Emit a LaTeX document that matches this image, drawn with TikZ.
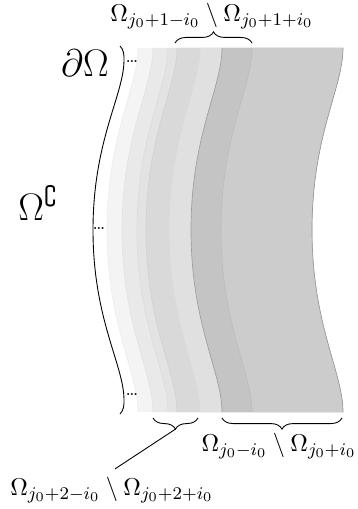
\documentclass[tikz,border=0pt]{standalone}
\usepackage{amsmath, amssymb}
\usepackage{tikz}
\usetikzlibrary{calc,positioning}
\usetikzlibrary{decorations.pathreplacing}

% one wavy edge of a layer, from top to bottom
\newcommand{\layeredge}[1]{(#1,48) .. controls (#1,88) and (#1-31,135) .. (#1-31,230) .. controls (#1-31,325) and (#1,372) .. (#1,412)}
% the right edge, from bottom to top
\newcommand{\rightedge}{(343,412) .. controls (343,372) and (312,325) .. (312,230) .. controls (312,135) and (343,88) .. (343,48)}

\tikzset{
  layerline/.style={line width=0.3pt},
  bracebelow/.style={decorate,decoration={brace,amplitude=5pt,mirror}},
  braceabove/.style={decorate,decoration={brace,amplitude=5pt}},
  dotslabel/.style={inner sep=0pt,font=\footnotesize},
  setlabel/.style={inner sep=0pt,font=\fontsize{11.3}{14}\selectfont},
  biglabel/.style={font=\fontsize{16}{19}\selectfont},
}

\begin{document}
\begin{tikzpicture}[x=0.45pt,y=-0.45pt]
      \useasboundingbox (0,0) rectangle (357,509);
      % Layers, from the outside in
      \fill[gray!9]  \layeredge{138} -- \rightedge -- cycle;
      \fill[gray!17] \layeredge{153} -- \rightedge -- cycle;
      \fill[gray!22] \layeredge{168} -- \rightedge -- cycle;
      \fill[gray!30] \layeredge{177} -- \rightedge -- cycle;
      \fill[gray!24] \layeredge{200} -- \rightedge -- cycle;
      \fill[gray!46] \layeredge{222} -- \rightedge -- cycle;
      \fill[gray!40] \layeredge{252} -- \rightedge -- cycle;
      % Layer boundaries
      \draw[layerline,gray!14] \layeredge{138};
      \draw[layerline,gray!22] \layeredge{153};
      \draw[layerline,gray!27] \layeredge{168};
      \draw[layerline,gray!35] \layeredge{177};
      \draw[layerline,gray!30] \layeredge{200};
      \draw[layerline,gray!75] \layeredge{222};
      \draw[layerline,gray!52] \layeredge{252};
      \draw[layerline,gray!80] \rightedge;
      % Boundary of the domain
      \draw[thin] (120,46) .. controls (124,50) and (124,55) .. (124,60)
        .. controls (124,95) and (93,140) .. (93,230)
        .. controls (93,320) and (124,365) .. (124,400)
        .. controls (124,405) and (124,410) .. (120,414);
      \node[dotslabel] (dtop) at (132,62) {\dots};
      \node[dotslabel] (dmid) at (99,229) {\dots};
      \node[dotslabel] (dbot) at (132,395) {\dots};
      \node[biglabel] (bdry) at (85,63) {$\partial\Omega$};
      \node[biglabel] (compl) at (38,203) {$\Omega^\complement$};
      % Braces
      \coordinate (T1) at (175,43);
      \coordinate (T2) at (252,43);
      \draw[braceabove] (T1) -- (T2);
      \node[setlabel] (ltop) at (212,16) {$\Omega_{j_0+1-i_0}\setminus\Omega_{j_0+1+i_0}$};
      \coordinate (B1) at (153,418);
      \coordinate (B2) at (198,418);
      \draw[bracebelow] (B1) -- (B2) coordinate[midway,below=5pt] (tipA);
      \coordinate (B3) at (222,418);
      \coordinate (B4) at (342,418);
      \draw[bracebelow] (B3) -- (B4);
      \node[setlabel] (lright) at (279,446) {$\Omega_{j_0-i_0}\setminus\Omega_{j_0+i_0}$};
      \node[setlabel] (lleft) at (112,490) {$\Omega_{j_0+2-i_0}\setminus\Omega_{j_0+2+i_0}$};
      \draw[thin] (tipA) -- ($(lleft.north)+(3,-8)$);
    \end{tikzpicture}
\end{document}
